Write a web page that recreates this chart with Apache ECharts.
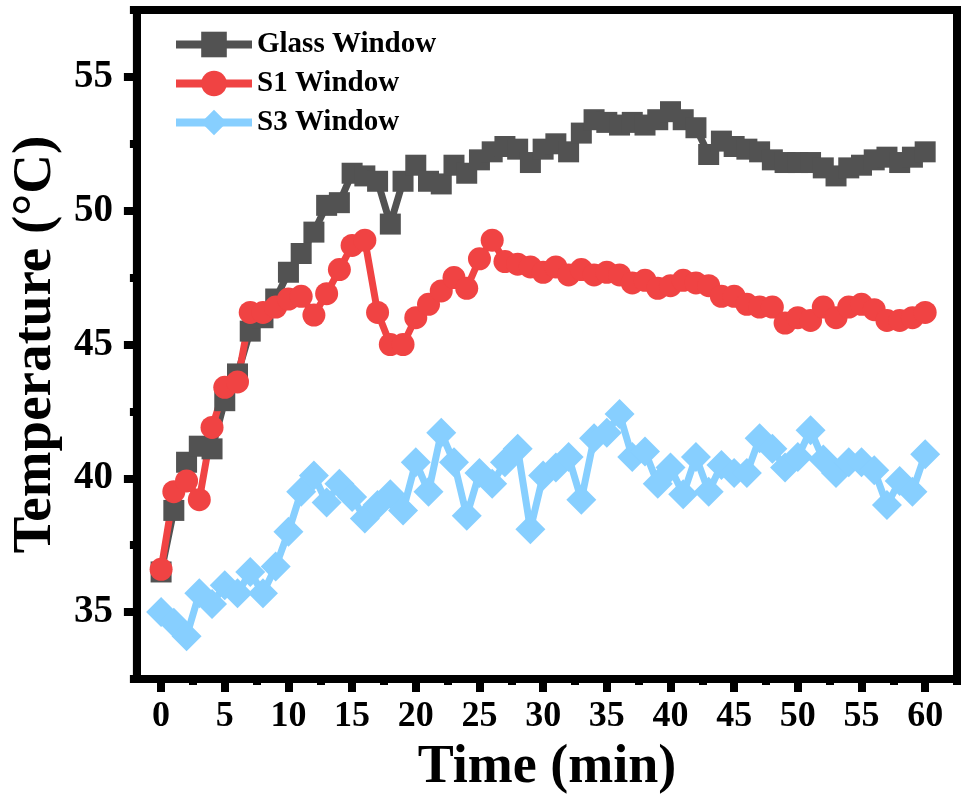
<!DOCTYPE html>
<html>
<head>
<meta charset="utf-8">
<script src="https://cdn.jsdelivr.net/npm/echarts@6/dist/echarts.min.js"></script>
<style>
  html, body { margin: 0; padding: 0; background: #fff; }
  #chart { width: 961px; height: 807px; }
</style>
</head>
<body>
<div id="chart"></div>
<script>
// time in minutes
const minutes = [0, 1, 2, 3, 4, 5, 6, 7, 8, 9, 10, 11, 12, 13, 14, 15, 16, 17, 18, 19, 20,
  21, 22, 23, 24, 25, 26, 27, 28, 29, 30, 31, 32, 33, 34, 35, 36, 37, 38, 39, 40,
  41, 42, 43, 44, 45, 46, 47, 48, 49, 50, 51, 52, 53, 54, 55, 56, 57, 58, 59, 60]

const glassWindow = [36.5, 38.8, 40.6, 41.2, 41.1, 42.9, 43.9, 45.5, 46.0, 46.7, 47.7,
  48.4, 49.2, 50.2, 50.3, 51.4, 51.3, 51.1, 49.5, 51.1, 51.7,
  51.1, 51.0, 51.7, 51.4, 51.9, 52.2, 52.4, 52.3, 51.8, 52.3,
  52.5, 52.2, 52.9, 53.4, 53.3, 53.2, 53.3, 53.2, 53.4, 53.7,
  53.4, 53.1, 52.1, 52.6, 52.4, 52.3, 52.2, 51.9, 51.8, 51.8,
  51.8, 51.6, 51.3, 51.6, 51.7, 51.9, 52.0, 51.8, 52.0, 52.2]

const s1Window = [36.6, 39.5, 39.9, 39.2, 41.9, 43.4, 43.6, 46.2, 46.2, 46.4, 46.7,
  46.8, 46.1, 46.9, 47.8, 48.7, 48.9, 46.2, 45.0, 45.0, 46.0,
  46.5, 47.0, 47.5, 47.1, 48.2, 48.9, 48.1, 48.0, 47.9, 47.7,
  47.9, 47.6, 47.8, 47.6, 47.7, 47.6, 47.3, 47.4, 47.1, 47.2,
  47.4, 47.3, 47.2, 46.8, 46.8, 46.5, 46.4, 46.4, 45.8, 46.0,
  45.9, 46.4, 46.0, 46.4, 46.5, 46.3, 45.9, 45.9, 46.0, 46.2]

const s3Window = [35.0, 34.6, 34.1, 35.7, 35.3, 36.0, 35.7, 36.5, 35.7, 36.7, 38.0,
  39.5, 40.1, 39.1, 39.8, 39.3, 38.5, 39.0, 39.4, 38.8, 40.6,
  39.5, 41.7, 40.6, 38.6, 40.2, 39.8, 40.6, 41.1, 38.1, 40.1,
  40.4, 40.8, 39.2, 41.5, 41.7, 42.4, 40.8, 41.0, 39.8, 40.4,
  39.4, 40.8, 39.5, 40.5, 40.2, 40.2, 41.5, 41.1, 40.4, 40.8,
  41.8, 40.7, 40.2, 40.6, 40.6, 40.3, 39.0, 39.9, 39.5, 40.9]

// tick labels / tick positions
const xMajorTicks = [0, 5, 10, 15, 20, 25, 30, 35, 40, 45, 50, 55, 60]
const xMinorTicks = [2.5, 7.5, 12.5, 17.5, 22.5, 27.5, 32.5, 37.5, 42.5, 47.5, 52.5, 57.5, 62.5]
const yMajorTicks = [35, 40, 45, 50, 55]
const yMinorTicks = [32.5, 37.5, 42.5, 47.5, 52.5, 57.5]

const font = 'Liberation Serif'
const black = '#000'

const toPairs = (values) => minutes.map((m, i) => [m, values[i]])

function lineSeries(name, values, color, symbol, symbolSize) {
  return {
    name: name,
    type: 'line',
    xAxisIndex: 0,
    yAxisIndex: 0,
    data: toPairs(values),
    symbol: symbol,
    symbolSize: symbolSize,
    showAllSymbol: true,
    lineStyle: { color: color, width: 7 },
    itemStyle: { color: color },
  }
}

const chart = echarts.init(document.getElementById('chart'))

const xBase = {
  type: 'value',
  min: -1.9,
  max: 62.5,
  position: 'bottom',
  splitLine: { show: false },
}
const yBase = {
  type: 'value',
  min: 32.5,
  max: 57.5,
  position: 'left',
  splitLine: { show: false },
}

chart.setOption({
  animation: false,
  backgroundColor: '#fff',
  grid: {
    left: 134,
    right: 4,
    top: 10,
    bottom: 128,
    show: true,
    borderColor: black,
    borderWidth: 8,
  },
  legend: {
    orient: 'vertical',
    left: 167,
    top: 25,
    itemWidth: 76,
    itemHeight: 32,
    itemGap: 10,
    lineStyle: { width: 8 },
    textStyle: { fontFamily: font, fontWeight: 'bold', fontSize: 29, color: black },
    data: ['Glass Window', 'S1 Window', 'S3 Window'],
  },
  xAxis: [
    {
      ...xBase,
      name: 'Time (min)',
      nameLocation: 'middle',
      nameGap: 62,
      nameTextStyle: { fontFamily: font, fontWeight: 'bold', fontSize: 54, color: black },
      axisLine: { show: true, onZero: false, lineStyle: { color: black, width: 8 } },
      axisTick: { show: true, length: 13, lineStyle: { color: black, width: 8 }, customValues: xMajorTicks },
      axisLabel: {
        customValues: xMajorTicks,
        fontFamily: font, fontWeight: 'bold', fontSize: 36, color: black, margin: 20,
      },
    },
    {
      ...xBase,
      axisLine: { show: false, onZero: false },
      axisTick: { show: true, length: 6, lineStyle: { color: black, width: 8 }, customValues: xMinorTicks },
      axisLabel: { show: false },
    },
  ],
  yAxis: [
    {
      ...yBase,
      name: 'Temperature (°C)',
      nameLocation: 'middle',
      nameGap: 65,
      nameTextStyle: { fontFamily: font, fontWeight: 'bold', fontSize: 55, color: black },
      axisLine: { show: true, onZero: false, lineStyle: { color: black, width: 8 } },
      axisTick: { show: true, length: 13, lineStyle: { color: black, width: 8 }, customValues: yMajorTicks },
      axisLabel: {
        customValues: yMajorTicks,
        fontFamily: font, fontWeight: 'bold', fontSize: 39, color: black, margin: 24,
      },
    },
    {
      ...yBase,
      axisLine: { show: false, onZero: false },
      axisTick: { show: true, length: 7, lineStyle: { color: black, width: 8 }, customValues: yMinorTicks },
      axisLabel: { show: false },
    },
  ],
  series: [
    lineSeries('Glass Window', glassWindow, '#525252', 'rect', 21),
    lineSeries('S1 Window', s1Window, '#F04343', 'circle', 23),
    lineSeries('S3 Window', s3Window, '#87CFFF', 'diamond', 30),
  ],
})
</script>
</body>
</html>
